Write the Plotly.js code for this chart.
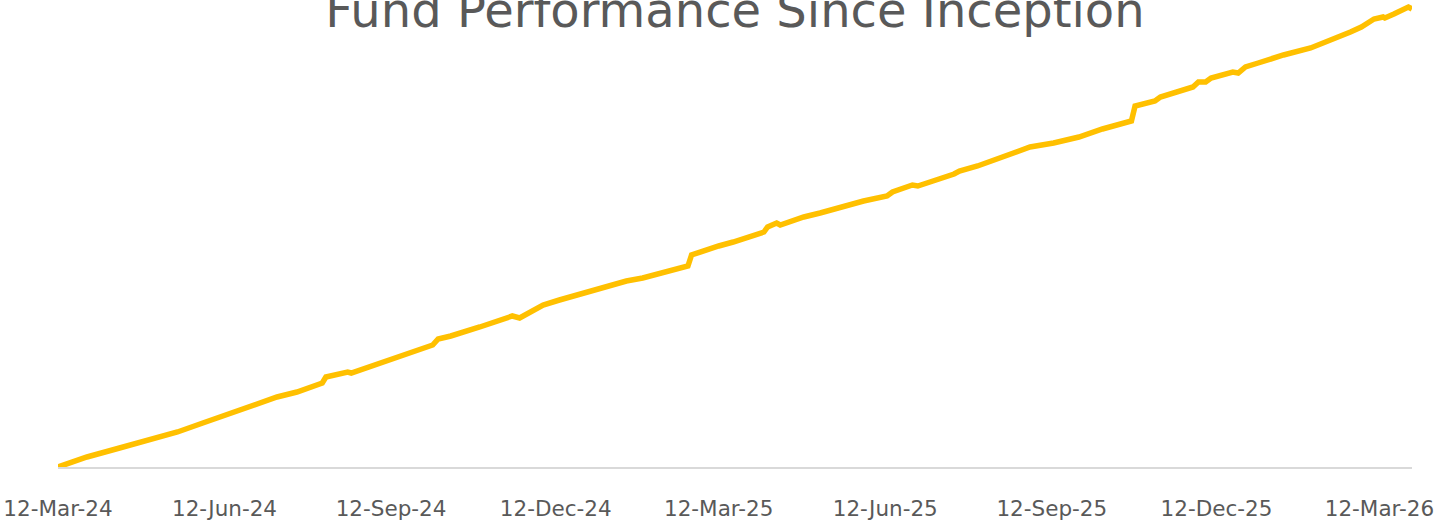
<!DOCTYPE html>
<html>
<head>
<meta charset="utf-8">
<script src="https://cdn.plot.ly/plotly-3.0.1.min.js"></script>
<style>
  html, body { margin: 0; padding: 0; background: #ffffff; }
  #chart { width: 1456px; height: 525px; }
</style>
</head>
<body>
<div id="chart"></div>
<script>
// Dates of the fund performance series
const dates = [
  "2024-03-12","2024-03-28","2024-04-15","2024-05-02","2024-05-17","2024-05-31",
  "2024-06-11","2024-06-26","2024-07-11","2024-07-22","2024-08-05","2024-08-07",
  "2024-08-19","2024-08-21","2024-08-31","2024-09-10","2024-09-22","2024-10-05",
  "2024-10-08","2024-10-15","2024-10-31","2024-11-08","2024-11-18","2024-11-22",
  "2024-12-02","2024-12-05","2024-12-14","2024-12-22","2025-01-06","2025-01-20",
  "2025-01-29","2025-02-09","2025-02-23","2025-02-25","2025-03-03","2025-03-12",
  "2025-03-20","2025-03-26","2025-04-06","2025-04-08","2025-04-13","2025-04-15",
  "2025-04-21","2025-04-28","2025-05-07","2025-05-16","2025-05-31","2025-06-13",
  "2025-06-16","2025-06-27","2025-06-30","2025-07-20","2025-07-23","2025-08-02",
  "2025-08-11","2025-08-15","2025-08-24","2025-08-31","2025-09-13","2025-09-27",
  "2025-10-10","2025-10-26","2025-10-28","2025-11-04","2025-11-08","2025-11-11",
  "2025-11-29","2025-12-02","2025-12-06","2025-12-09","2025-12-16","2025-12-21",
  "2025-12-24","2025-12-28","2026-01-04","2026-01-18","2026-02-02","2026-02-20",
  "2026-02-24","2026-03-02","2026-03-09","2026-03-14","2026-03-15","2026-03-20",
  "2026-03-25","2026-03-28","2026-03-30"
];

// Cumulative return since inception (%), estimated from the line
const cumulativeReturn = [
  0.00, 0.50, 0.95, 1.40, 1.75, 2.20,
  2.55, 3.05, 3.50, 3.75, 4.20, 4.50,
  4.75, 4.70, 5.00, 5.30, 5.70, 6.10,
  6.40, 6.55, 7.00, 7.25, 7.55, 7.45,
  7.95, 8.10, 8.35, 8.55, 8.95, 9.30,
  9.45, 9.70, 10.05, 10.60, 10.80, 11.05,
  11.25, 11.45, 11.75, 12.00, 12.20, 12.10,
  12.30, 12.50, 12.70, 12.95, 13.30, 13.55,
  13.75, 14.10, 14.05, 14.65, 14.80, 15.05,
  15.35, 15.50, 15.75, 16.00, 16.20, 16.50,
  16.90, 17.30, 18.05, 18.25, 18.30, 18.50,
  19.00, 19.25, 19.25, 19.45, 19.60, 19.75,
  19.70, 20.00, 20.20, 20.60, 20.95, 21.55,
  21.75, 22.00, 22.40, 22.50, 22.45, 22.65,
  22.90, 23.00, 22.90
];

// Axis tick positions and labels
const tickDates = [
  "2024-03-12","2024-06-12","2024-09-12","2024-12-12","2025-03-12",
  "2025-06-12","2025-09-12","2025-12-12","2026-03-12"
];
const tickLabels = [
  "12-Mar-24","12-Jun-24","12-Sep-24","12-Dec-24","12-Mar-25",
  "12-Jun-25","12-Sep-25","12-Dec-25","12-Mar-26"
];

const chartTitle = "Fund Performance Since Inception";

const trace = {
  x: dates,
  y: cumulativeReturn,
  type: "scatter",
  mode: "lines",
  line: { color: "#FFC000", width: 5.5, shape: "linear" },
  cliponaxis: false,
  hoverinfo: "x+y"
};

const layout = {
  width: 1456,
  height: 525,
  paper_bgcolor: "#ffffff",
  plot_bgcolor: "#ffffff",
  showlegend: false,
  margin: { l: 58, r: 44, t: 0, b: 58, pad: 0 },
  font: { family: "DejaVu Sans, sans-serif", color: "#595959" },
  title: {
    text: chartTitle,
    font: { family: "DejaVu Sans, sans-serif", size: 48, color: "#595959" },
    x: 0.5,
    xref: "paper",
    xanchor: "center",
    yref: "container",
    y: 0.981,
    yanchor: "middle"
  },
  xaxis: {
    type: "date",
    range: [dates[0], dates[dates.length - 1]],
    tickmode: "array",
    tickvals: tickDates,
    ticktext: tickLabels,
    ticks: "",
    showgrid: false,
    zeroline: false,
    showline: true,
    linecolor: "#D9D9D9",
    linewidth: 2,
    tickfont: { family: "DejaVu Sans, sans-serif", size: 21.5, color: "#595959" },
    ticklabelstandoff: 21,
    fixedrange: true
  },
  yaxis: {
    range: [0, 23.35],
    showticklabels: false,
    ticks: "",
    showgrid: false,
    zeroline: false,
    showline: false,
    fixedrange: true
  }
};

Plotly.newPlot("chart", [trace], layout, { displayModeBar: false, staticPlot: true });
</script>
</body>
</html>
